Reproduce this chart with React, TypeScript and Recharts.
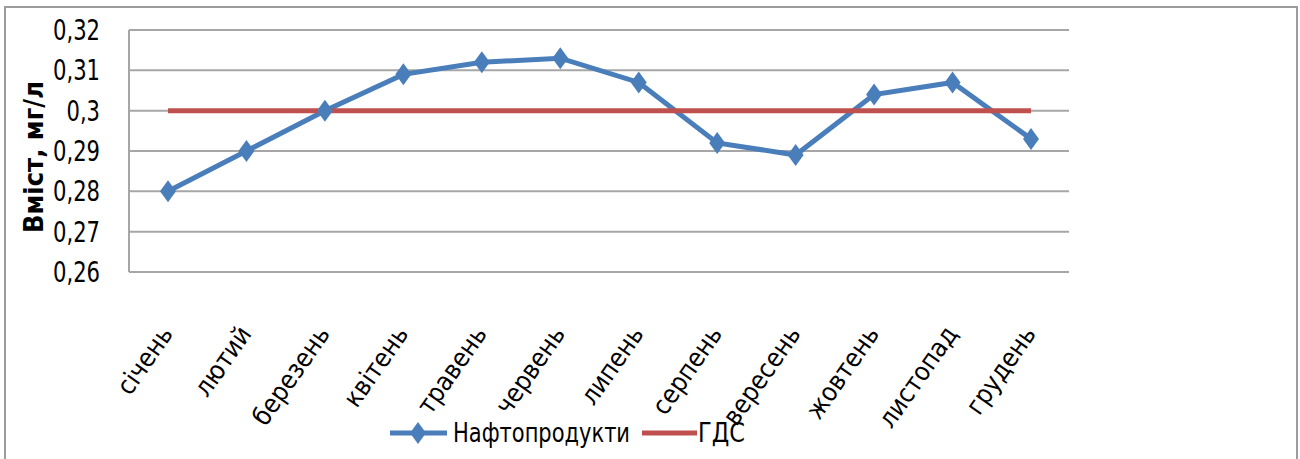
import React from 'react';
import {
  LineChart,
  Line,
  XAxis,
  YAxis,
  CartesianGrid,
  Legend,
} from 'recharts';

const months = [
  'січень', 'лютий', 'березень', 'квітень', 'травень', 'червень',
  'липень', 'серпень', 'вересень', 'жовтень', 'листопад', 'грудень',
];
const oilProducts = [0.28, 0.29, 0.3, 0.309, 0.312, 0.313, 0.307, 0.292, 0.289, 0.304, 0.307, 0.293];
const gds = [0.3, 0.3, 0.3, 0.3, 0.3, 0.3, 0.3, 0.3, 0.3, 0.3, 0.3, 0.3];
const yTicks = [0.26, 0.27, 0.28, 0.29, 0.3, 0.31, 0.32];

const data = months.map((m, i) => ({ month: m, oil: oilProducts[i], gds: gds[i] }));

const FONT = '"DejaVu Sans Condensed", "Liberation Sans Narrow", "Liberation Sans", sans-serif';
const BLUE = '#4a7ebb';
const RED = '#c0504d';

const Diamond = (props: any) => {
  const { cx, cy } = props;
  if (cx == null || cy == null) return null;
  return (
    <polygon
      points={`${cx},${cy - 11} ${cx + 8},${cy} ${cx},${cy + 11} ${cx - 8},${cy}`}
      fill={BLUE}
    />
  );
};

const MonthTick = (props: any) => {
  const { x, y, payload } = props;
  return (
    <g transform={`translate(${x + 6},${y + 62})`}>
      <text
        transform="rotate(-55)"
        textAnchor="end"
        fontFamily={FONT}
        fontSize={26}
        fill="#000"
      >
        {payload.value}
      </text>
    </g>
  );
};

// y labels squeezed like the reference (narrow font)
const ValueTick = (props: any) => {
  const { x, y, payload } = props;
  const s = String(payload.value).replace('.', ',');
  const digits = s.replace(',', '').length;
  return (
    <text
      x={x}
      y={y}
      dy={10}
      textAnchor="end"
      fontFamily={FONT}
      fontSize={29}
      fill="#000"
      textLength={digits * 13.5 + 6.5}
      lengthAdjust="spacingAndGlyphs"
    >
      {s}
    </text>
  );
};

const YLabel = (props: any) => {
  const { viewBox } = props;
  const cx = 33;
  const cy = viewBox.y + viewBox.height / 2 + 6;
  return (
    <text
      x={cx}
      y={cy}
      transform={`rotate(-90, ${cx}, ${cy})`}
      textAnchor="middle"
      dominantBaseline="central"
      fontFamily={FONT}
      fontWeight="bold"
      fontSize={27}
      fill="#000"
    >
      Вміст, мг/л
    </text>
  );
};

const ChartLegend = () => (
  <svg width={1300} height={40} style={{ display: 'block' }}>
    <line x1={390} y1={22} x2={447} y2={22} stroke={BLUE} strokeWidth={5} />
    <polygon points="418,11 426,22 418,33 410,22" fill={BLUE} />
    <text x={453} y={31} fontFamily={FONT} fontSize={27} fill="#000"
      textLength={177} lengthAdjust="spacingAndGlyphs">Нафтопродукти</text>
    <line x1={642} y1={22} x2={697} y2={22} stroke={RED} strokeWidth={5} />
    <text x={698} y={31} fontFamily={FONT} fontSize={27} fill="#000"
      textLength={47} lengthAdjust="spacingAndGlyphs">ГДС</text>
  </svg>
);

export default function App() {
  return (
    <div style={{ position: 'absolute', left: 0, top: 0, width: 1300, height: 459, background: '#fff' }}>
      <div
        style={{
          position: 'absolute',
          left: 4,
          top: 6,
          width: 1294,
          height: 460,
          border: '2px solid #9c9c9c',
          borderBottom: 'none',
          boxSizing: 'border-box',
        }}
      />
      <LineChart
        width={1300}
        height={459}
        data={data}
        margin={{ top: 30, right: 231, left: 0, bottom: 0 }}
        style={{ position: 'absolute', left: 0, top: 0 }}
      >
        <CartesianGrid vertical={false} stroke="#a6a6a6" strokeWidth={2} />
        <XAxis
          dataKey="month"
          height={147}
          padding={{ left: 39, right: 38 }}
          tick={<MonthTick />}
          tickLine={false}
          tickSize={0}
          tickMargin={0}
          axisLine={{ stroke: '#a6a6a6', strokeWidth: 2 }}
          interval={0}
        />
        <YAxis
          width={129}
          domain={[0.26, 0.32]}
          ticks={yTicks}
          interval={0}
          tick={<ValueTick />}
          tickLine={false}
          tickSize={0}
          tickMargin={29}
          axisLine={{ stroke: '#a6a6a6', strokeWidth: 2 }}
          allowDataOverflow
          label={<YLabel />}
        />
        <Legend
          verticalAlign="bottom"
          content={<ChartLegend />}
          wrapperStyle={{ position: 'absolute', left: 0, top: 411, width: 1300 }}
        />
        <Line
          dataKey="oil"
          name="Нафтопродукти"
          stroke={BLUE}
          strokeWidth={5}
          dot={<Diamond />}
          activeDot={false}
          isAnimationActive={false}
        />
        <Line
          dataKey="gds"
          name="ГДС"
          stroke={RED}
          strokeWidth={5}
          dot={false}
          activeDot={false}
          isAnimationActive={false}
        />
      </LineChart>
    </div>
  );
}
